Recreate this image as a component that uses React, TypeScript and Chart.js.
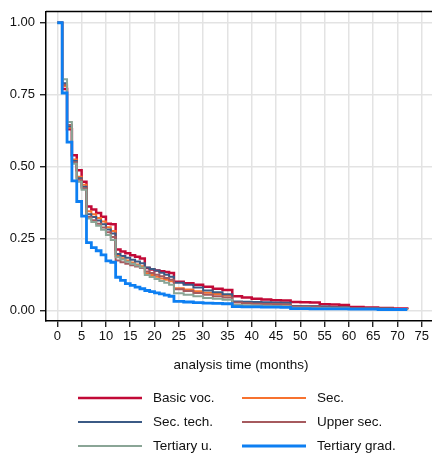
import React, { useEffect, useRef } from "react";
import { Chart, registerables } from "chart.js";

Chart.register(...registerables);

// Months at which the survivor functions are read (value holds until next time)
const months = [0, 1, 2, 3, 4, 5, 6, 7, 8, 9, 10, 11, 12, 13, 14, 15, 16, 17, 18, 19, 20, 21, 22, 23, 24, 26, 28, 30, 32, 34, 36, 38, 40, 42, 44, 46, 48, 50, 52, 54, 56, 58, 60, 63, 66, 69, 72];

const basicVoc = [1, 0.77, 0.63, 0.54, 0.488, 0.448, 0.362, 0.351, 0.339, 0.326, 0.302, 0.3, 0.212, 0.205, 0.199, 0.192, 0.187, 0.181, 0.148, 0.143, 0.139, 0.137, 0.134, 0.131, 0.1, 0.095, 0.09, 0.083, 0.076, 0.072, 0.05, 0.046, 0.041, 0.039, 0.036, 0.035, 0.03, 0.029, 0.028, 0.022, 0.021, 0.02, 0.013, 0.011, 0.009, 0.007, 0.006];
const sec = [1, 0.78, 0.635, 0.525, 0.465, 0.437, 0.345, 0.335, 0.322, 0.31, 0.29, 0.277, 0.19, 0.182, 0.174, 0.167, 0.16, 0.154, 0.13, 0.124, 0.118, 0.112, 0.107, 0.102, 0.078, 0.073, 0.067, 0.062, 0.058, 0.053, 0.03, 0.028, 0.026, 0.024, 0.022, 0.021, 0.016, 0.015, 0.015, 0.012, 0.012, 0.011, 0.009, 0.008, 0.007, 0.006, 0.005];
const secTech = [1, 0.79, 0.64, 0.52, 0.46, 0.43, 0.335, 0.325, 0.313, 0.3, 0.282, 0.268, 0.197, 0.19, 0.184, 0.177, 0.171, 0.165, 0.15, 0.145, 0.139, 0.132, 0.125, 0.118, 0.097, 0.09, 0.08, 0.07, 0.064, 0.057, 0.032, 0.031, 0.03, 0.029, 0.028, 0.027, 0.016, 0.015, 0.015, 0.014, 0.013, 0.012, 0.009, 0.008, 0.007, 0.006, 0.005];
const upperSec = [1, 0.785, 0.645, 0.515, 0.455, 0.425, 0.325, 0.314, 0.302, 0.289, 0.272, 0.256, 0.174, 0.168, 0.163, 0.158, 0.153, 0.148, 0.136, 0.131, 0.125, 0.119, 0.113, 0.107, 0.074, 0.068, 0.061, 0.055, 0.05, 0.046, 0.028, 0.026, 0.024, 0.023, 0.022, 0.021, 0.014, 0.013, 0.013, 0.011, 0.011, 0.01, 0.008, 0.007, 0.006, 0.005, 0.004];
const tertiaryU = [1, 0.804, 0.655, 0.51, 0.448, 0.42, 0.32, 0.308, 0.295, 0.281, 0.263, 0.245, 0.185, 0.178, 0.17, 0.163, 0.157, 0.15, 0.124, 0.117, 0.11, 0.103, 0.097, 0.09, 0.06, 0.055, 0.05, 0.044, 0.041, 0.038, 0.02, 0.019, 0.018, 0.017, 0.016, 0.015, 0.01, 0.01, 0.009, 0.009, 0.008, 0.008, 0.006, 0.006, 0.005, 0.005, 0.004];
const tertiaryGrad = [1, 0.756, 0.585, 0.451, 0.379, 0.328, 0.236, 0.219, 0.208, 0.194, 0.173, 0.168, 0.116, 0.105, 0.094, 0.088, 0.082, 0.076, 0.07, 0.066, 0.062, 0.058, 0.054, 0.05, 0.032, 0.03, 0.028, 0.026, 0.025, 0.024, 0.014, 0.013, 0.013, 0.012, 0.012, 0.011, 0.007, 0.007, 0.006, 0.006, 0.006, 0.006, 0.005, 0.005, 0.004, 0.004, 0.004];

const seriesLabels = ["Basic voc.", "Sec.", "Sec. tech.", "Upper sec.", "Tertiary u.", "Tertiary grad."];
const seriesValues = [basicVoc, sec, secTech, upperSec, tertiaryU, tertiaryGrad];
const seriesColors = ["#C20A37", "#F7722F", "#3B5A85", "#A65A5E", "#8AA596", "#0D7FF2"];
const seriesWidths = [2.5, 2, 2, 2, 2, 2.8];

const xTickValues = [0, 5, 10, 15, 20, 25, 30, 35, 40, 45, 50, 55, 60, 65, 70, 75];
const yTickValues = [0, 0.25, 0.5, 0.75, 1];

const FONT = "'Liberation Sans', Arial, Helvetica, sans-serif";
const GRID = "#e3e3e3";
const CLEAR = "rgba(0,0,0,0)";

const frameAndLegend = {
  id: "frameAndLegend",
  afterDraw(chart: any) {
    const ctx = chart.ctx;
    const area = chart.chartArea;
    ctx.save();
    ctx.strokeStyle = "#000";
    ctx.lineWidth = 1.5;
    ctx.beginPath();
    ctx.moveTo(area.left, area.top);
    ctx.lineTo(area.right, area.top);
    ctx.stroke();

    const colX = [78, 242];
    const lineLen = 64;
    const gap = 11;
    const rowY0 = 398;
    const rowGap = 24;
    ctx.font = `13.5px ${FONT}`;
    ctx.textBaseline = "middle";
    ctx.textAlign = "left";
    chart.data.datasets.forEach((ds: any, i: number) => {
      const col = i % 2;
      const row = Math.floor(i / 2);
      const x0 = colX[col];
      const y = rowY0 + row * rowGap;
      ctx.strokeStyle = ds.borderColor;
      ctx.lineWidth = ds.borderWidth;
      ctx.beginPath();
      ctx.moveTo(x0, y);
      ctx.lineTo(x0 + lineLen, y);
      ctx.stroke();
      ctx.fillStyle = "#111";
      ctx.fillText(ds.label, x0 + lineLen + gap, y);
    });
    ctx.restore();
  },
};

const onTick = (list: number[], on: string) => (c: any) =>
  c.tick && list.includes(c.tick.value) ? on : CLEAR;

export default function App() {
  const ref = useRef<HTMLCanvasElement | null>(null);

  useEffect(() => {
    if (!ref.current) return;
    const datasets = seriesLabels.map((label, i) => ({
      label,
      data: months.map((m, j) => ({ x: m, y: seriesValues[i][j] })),
      borderColor: seriesColors[i],
      backgroundColor: seriesColors[i],
      borderWidth: seriesWidths[i],
      stepped: true,
      pointRadius: 0,
      fill: false,
      order: seriesLabels.length - i,
    }));

    const tickFont = { family: FONT, size: 13, lineHeight: 1 };
    const chart = new Chart(ref.current, {
      type: "line",
      data: { datasets },
      options: {
        animation: false,
        responsive: false,
        maintainAspectRatio: false,
        layout: { padding: { left: 0, right: 0, top: 7, bottom: 79 } },
        plugins: { legend: { display: false }, tooltip: { enabled: false } },
        scales: {
          x: {
            type: "linear",
            min: -2.33,
            max: 77.92,
            afterBuildTicks: (s: any) => {
              s.ticks = xTickValues.map((v) => ({ value: v }));
            },
            afterFit: (s: any) => {
              s.height = 54;
            },
            ticks: {
              padding: 3,
              font: tickFont,
              color: "#111",
              maxRotation: 0,
              autoSkip: false,
              callback: (v: any) => String(v),
            },
            grid: {
              color: onTick(xTickValues, GRID),
              lineWidth: 1.5,
              tickColor: onTick(xTickValues, "#000"),
              tickWidth: 1.2,
              tickLength: 6,
            },
            border: { display: true, color: "#000", width: 1.5 },
            title: {
              display: true,
              text: "analysis time (months)",
              color: "#111",
              font: { family: FONT, size: 13.5, lineHeight: 1.2 },
              padding: { top: 0, bottom: 2 },
            },
          },
          y: {
            type: "linear",
            min: -0.036,
            max: 1.039,
            afterBuildTicks: (s: any) => {
              s.ticks = yTickValues.map((v) => ({ value: v }));
            },
            afterFit: (s: any) => {
              s.width = 46;
            },
            ticks: {
              padding: 5,
              font: tickFont,
              color: "#111",
              autoSkip: false,
              callback: (v: any) => Number(v).toFixed(2),
            },
            grid: {
              color: onTick(yTickValues, GRID),
              lineWidth: 1.5,
              tickColor: onTick(yTickValues, "#000"),
              tickWidth: 1.2,
              tickLength: 6,
            },
            border: { display: true, color: "#000", width: 1.5 },
          },
        },
      },
      plugins: [frameAndLegend],
    } as any);
    return () => chart.destroy();
  }, []);

  return (
    <div style={{ position: "fixed", left: 0, top: 0, width: 432, height: 454, overflow: "hidden", background: "#fff" }}>
      <canvas ref={ref} width={436} height={454} style={{ display: "block", width: 436, height: 454 }} />
    </div>
  );
}
